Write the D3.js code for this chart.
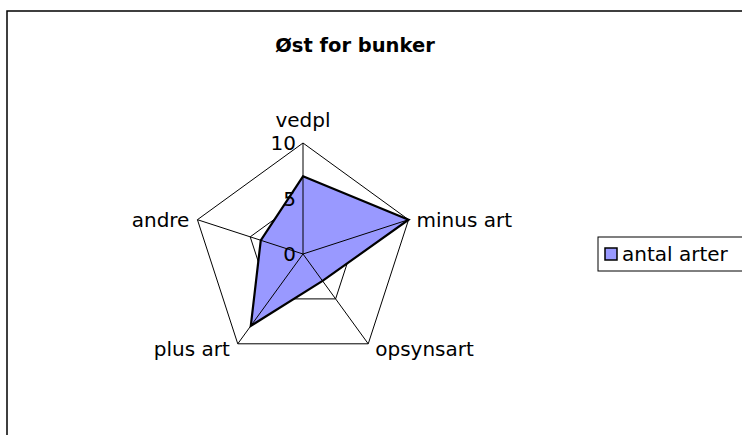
<!DOCTYPE html>
<html>
<head>
<meta charset="utf-8">
<script src="https://cdn.jsdelivr.net/npm/d3@7"></script>
<style>
  body { margin: 0; background: #fff; }
  text { font-family: "DejaVu Sans", Verdana, sans-serif; }
</style>
</head>
<body>
<svg id="chart" width="742" height="435"></svg>
<script>
const title = "Øst for bunker";
const categories = ["vedpl", "minus art", "opsynsart", "plus art", "andre"];
const values = [7, 10, 3, 8, 4];
const seriesName = "antal arter";
const tickValues = [0, 5, 10];

const svg = d3.select("#chart");
const cx = 303, cy = 254, radius = 111;

// outer chart frame (runs off the right and bottom edges)
svg.append("rect")
  .attr("x", 7).attr("y", 11)
  .attr("width", 760).attr("height", 440)
  .attr("fill", "none").attr("stroke", "#000").attr("stroke-width", 1.5);

svg.append("text")
  .attr("x", 355).attr("y", 52)
  .attr("text-anchor", "middle")
  .attr("font-size", 19.5).attr("font-weight", "bold")
  .text(title);

const rScale = d3.scaleLinear().domain([0, 10]).range([0, radius]);
const angle = d3.scalePoint().domain(categories).range([0, 2 * Math.PI * (categories.length - 1) / categories.length]);

const pt = (cat, v) => {
  const a = angle(cat) - Math.PI / 2;
  return [cx + rScale(v) * Math.cos(a), cy + rScale(v) * Math.sin(a)];
};

const g = svg.append("g");

// grid rings (5 and 10)
tickValues.filter((t) => t > 0).forEach((t) => {
  g.append("path")
    .attr("d", d3.line()(categories.map((c) => pt(c, t))) + "Z")
    .attr("fill", "none").attr("stroke", "#000").attr("stroke-width", 1);
});

// data polygon
g.append("path")
  .attr("d", d3.line()(categories.map((c, i) => pt(c, values[i]))) + "Z")
  .attr("fill", "#9999ff").attr("stroke", "none");

// spokes
categories.forEach((c) => {
  const [x, y] = pt(c, 10);
  g.append("line")
    .attr("x1", cx).attr("y1", cy).attr("x2", x).attr("y2", y)
    .attr("stroke", "#000").attr("stroke-width", 1);
});

g.append("path")
  .attr("d", d3.line()(categories.map((c, i) => pt(c, values[i]))) + "Z")
  .attr("fill", "none").attr("stroke", "#000").attr("stroke-width", 2.2)
  .attr("stroke-linejoin", "miter");

// tick labels on the vertical axis
tickValues.forEach((t) => {
  g.append("text")
    .attr("x", cx - 7).attr("y", cy - rScale(t) + 7)
    .attr("text-anchor", "end")
    .attr("font-size", 20)
    .text(t);
});

// category labels
categories.forEach((c) => {
  const [x, y] = pt(c, 10);
  const t = g.append("text").attr("font-size", 20).text(c);
  if (c === "vedpl") {
    t.attr("x", x).attr("y", y - 16).attr("text-anchor", "middle");
  } else if (c === "minus art") {
    t.attr("x", x + 8).attr("y", y + 7).attr("text-anchor", "start");
  } else if (c === "opsynsart") {
    t.attr("x", x + 7).attr("y", y + 12).attr("text-anchor", "start");
  } else if (c === "plus art") {
    t.attr("x", x - 8).attr("y", y + 12).attr("text-anchor", "end");
  } else {
    t.attr("x", x - 8).attr("y", y + 7).attr("text-anchor", "end");
  }
});

// legend
const lg = svg.append("g");
lg.append("rect")
  .attr("x", 598).attr("y", 237).attr("width", 160).attr("height", 34)
  .attr("fill", "#fff").attr("stroke", "#000").attr("stroke-width", 1);
lg.append("rect")
  .attr("x", 605).attr("y", 248).attr("width", 12).attr("height", 12)
  .attr("fill", "#9999ff").attr("stroke", "#000").attr("stroke-width", 1.5);
lg.append("text")
  .attr("x", 622).attr("y", 261)
  .attr("font-size", 20)
  .text(seriesName);
</script>
</body>
</html>
